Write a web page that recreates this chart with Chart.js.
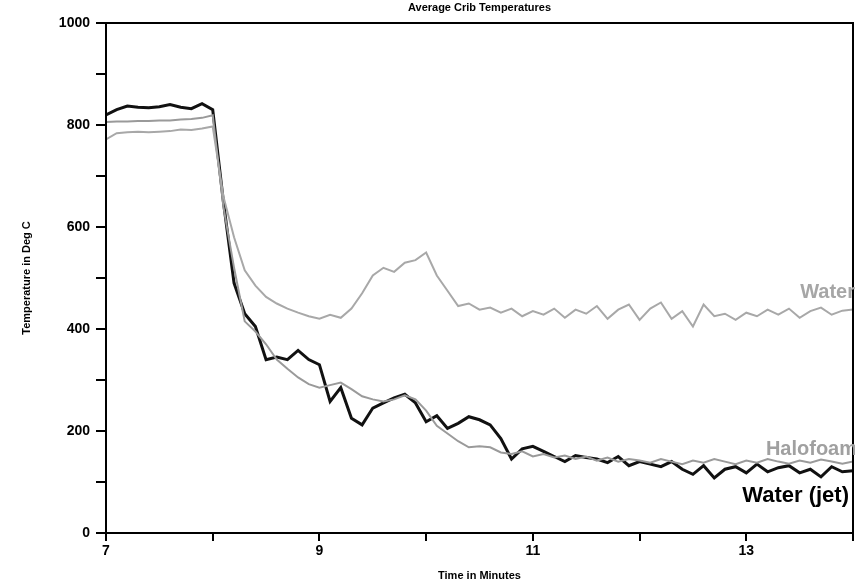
<!DOCTYPE html>
<html>
<head>
<meta charset="utf-8">
<script src="https://cdn.jsdelivr.net/npm/chart.js@4/dist/chart.umd.min.js"></script>
<style>
  html, body { margin: 0; padding: 0; background: #fff; }
  #wrap { width: 855px; height: 583px; position: relative; }
</style>
</head>
<body>
<div id="wrap"><canvas id="crib"></canvas></div>
<script>
// Average crib temperatures, sampled every 0.1 minute
const times = [
  7.0, 7.1, 7.2, 7.3, 7.4, 7.5, 7.6, 7.7, 7.8, 7.9,
  8.0, 8.1, 8.2, 8.3, 8.4, 8.5, 8.6, 8.7, 8.8, 8.9,
  9.0, 9.1, 9.2, 9.3, 9.4, 9.5, 9.6, 9.7, 9.8, 9.9,
  10.0, 10.1, 10.2, 10.3, 10.4, 10.5, 10.6, 10.7, 10.8, 10.9,
  11.0, 11.1, 11.2, 11.3, 11.4, 11.5, 11.6, 11.7, 11.8, 11.9,
  12.0, 12.1, 12.2, 12.3, 12.4, 12.5, 12.6, 12.7, 12.8, 12.9,
  13.0, 13.1, 13.2, 13.3, 13.4, 13.5, 13.6, 13.7, 13.8, 13.9,
  14.0
]

const water = [
  772, 784, 786, 787, 786, 787, 788, 791, 790, 793,
  797, 660, 580, 515, 485, 463, 450, 440, 432, 425,
  420, 428, 422, 440, 470, 505, 520, 512, 530, 535,
  550, 505, 475, 445, 450, 438, 442, 432, 440, 425,
  435, 428, 440, 422, 438, 430, 445, 420, 438, 448,
  418, 440, 452, 420, 435, 405, 448, 425, 430, 418,
  432, 425, 438, 428, 440, 422, 435, 442, 428, 436,
  438
]

const halofoam = [
  806, 807, 807, 808, 808, 809, 809, 811, 812, 814,
  819, 640, 520, 415, 395, 370, 340, 322, 305, 292,
  285, 290, 295, 282, 268, 262, 258, 262, 270, 262,
  240, 210, 195, 180, 168, 170, 168, 158, 155, 160,
  150, 155, 148, 152, 145, 150, 142, 148, 140, 145,
  142, 138, 145, 140, 135, 142, 138, 145, 140, 135,
  142, 138, 145, 140, 136, 142, 138, 144, 140, 136,
  140
]

const waterJet = [
  820, 830, 837, 835, 834, 836, 840, 835, 832, 842,
  830, 650, 490, 430, 405, 340, 345, 340, 358, 340,
  330, 258, 285, 225, 212, 245, 255, 265, 272, 255,
  218, 230, 205, 215, 228, 222, 212, 185, 145, 165,
  170, 160, 150, 140, 152, 148, 145, 138, 150, 132,
  140, 135, 130, 140, 125, 115, 132, 108, 125, 130,
  118, 135, 120, 128, 132, 118, 125, 110, 130, 120,
  122
]

const yTickLabels = [0, 200, 400, 600, 800, 1000]
const xTickLabels = [7, 9, 11, 13]

const toPoints = (vals) => vals.map((v, i) => ({ x: times[i], y: v }))

const FONT = "'Liberation Sans', Arial, sans-serif"

// frame, title and series names drawn straight on the canvas
const decorations = {
  id: 'decorations',
  afterDraw(chart) {
    const { ctx, chartArea: a, scales } = chart
    ctx.save()
    ctx.strokeStyle = '#000'
    ctx.lineWidth = 2
    ctx.strokeRect(a.left, a.top, a.right - a.left, a.bottom - a.top)

    ctx.fillStyle = '#000'
    ctx.font = 'bold 11px ' + FONT
    ctx.textAlign = 'center'
    ctx.textBaseline = 'middle'
    ctx.fillText('Average Crib Temperatures', (a.left + a.right) / 2, 8)

    ctx.textAlign = 'right'
    ctx.textBaseline = 'alphabetic'
    ctx.font = 'bold 20px ' + FONT
    ctx.fillStyle = '#a6a6a6'
    ctx.fillText('Water', a.right + 2, scales.y.getPixelForValue(460))
    ctx.fillStyle = '#a0a0a0'
    ctx.fillText('Halofoam', a.right + 4, scales.y.getPixelForValue(152))
    ctx.fillStyle = '#000'
    ctx.font = 'bold 22px ' + FONT
    ctx.fillText('Water (jet)', a.right - 4, scales.y.getPixelForValue(60))
    ctx.restore()
  }
}

new Chart(document.getElementById('crib'), {
  type: 'line',
  data: {
    datasets: [
      {
        label: 'Water',
        data: toPoints(water),
        borderColor: '#a8a8a8',
        borderWidth: 2
      },
      {
        label: 'Halofoam',
        data: toPoints(halofoam),
        borderColor: '#9a9a9a',
        borderWidth: 2
      },
      {
        label: 'Water (jet)',
        data: toPoints(waterJet),
        borderColor: '#111',
        borderWidth: 3
      }
    ]
  },
  options: {
    responsive: true,
    maintainAspectRatio: false,
    animation: false,
    layout: { padding: { top: 23, right: 2, left: 20, bottom: 0 } },
    elements: {
      point: { radius: 0 },
      line: { tension: 0 }
    },
    plugins: {
      legend: { display: false },
      tooltip: { enabled: false }
    },
    scales: {
      x: {
        type: 'linear',
        min: 7,
        max: 14,
        afterFit: (s) => { s.height = 50 },
        border: { display: false },
        grid: { drawOnChartArea: false, drawTicks: true, tickLength: 8, color: '#000', lineWidth: 2 },
        ticks: {
          stepSize: 1,
          color: '#000',
          padding: 2,
          font: { family: FONT, size: 14, weight: 'bold' },
          callback: (v) => xTickLabels.includes(v) ? String(v) : ''
        },
        title: {
          display: true,
          text: 'Time in Minutes',
          color: '#000',
          padding: { top: 1, bottom: 0 },
          font: { family: FONT, size: 11, weight: 'bold' }
        }
      },
      y: {
        min: 0,
        max: 1000,
        afterFit: (s) => { s.width = 86 },
        border: { display: false },
        grid: { drawOnChartArea: false, drawTicks: true, tickLength: 10, color: '#000', lineWidth: 2 },
        ticks: {
          stepSize: 100,
          color: '#000',
          padding: 6,
          font: { family: FONT, size: 14, weight: 'bold' },
          callback: (v) => yTickLabels.includes(v) ? String(v) : ''
        },
        title: {
          display: true,
          text: 'Temperature in Deg C',
          color: '#000',
          padding: { top: 0, bottom: 4 },
          font: { family: FONT, size: 11, weight: 'bold' }
        }
      }
    }
  },
  plugins: [decorations]
})
</script>
</body>
</html>
